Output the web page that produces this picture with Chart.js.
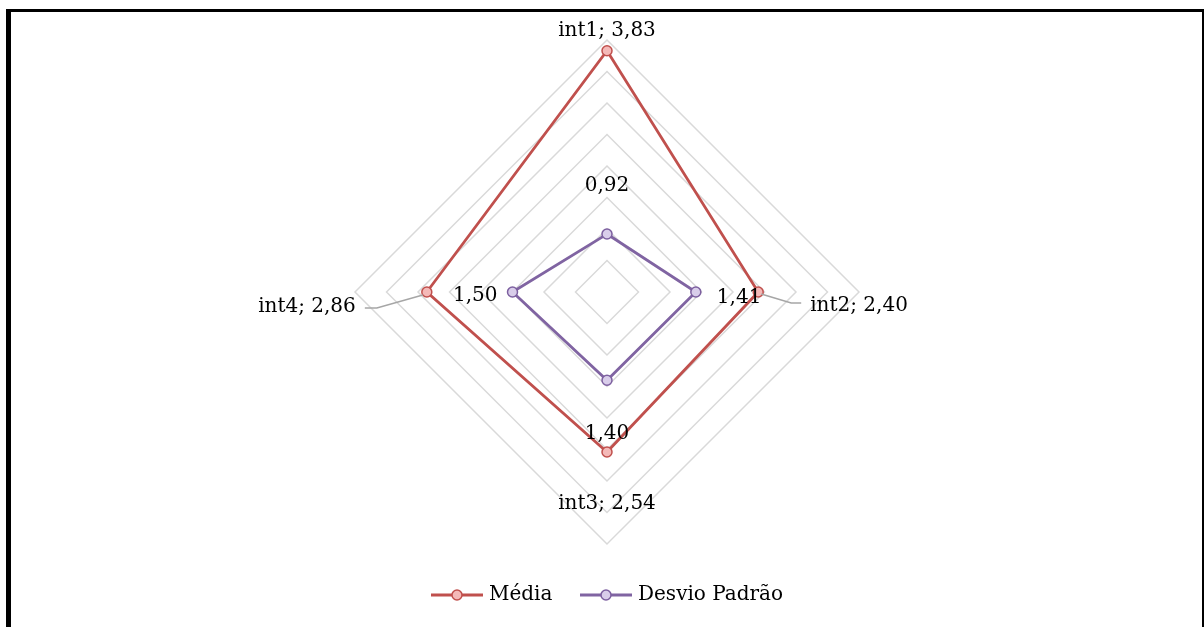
<!DOCTYPE html>
<html>
<head>
<meta charset="utf-8">
<script src="https://cdn.jsdelivr.net/npm/chart.js@4"></script>
<style>
    html, body { margin: 0; padding: 0; background: #fff; overflow: hidden; }
    #frame {
        position: absolute; left: 6px; top: 9px;
        width: 1191px; height: 700px;
        border-left: 5px solid #000; border-top: 3px solid #000; border-right: 5px solid #000;
    }
    #chart { position: absolute; left: 0; top: 0; }
</style>
</head>
<body>
<div id="frame"></div>
<canvas id="chart" width="1204" height="627"></canvas>
<script>
const categories = ['int1', 'int2', 'int3', 'int4'];
const mediaValues = [3.83, 2.40, 2.54, 2.86];
const desvioValues = [0.92, 1.41, 1.40, 1.50];
const seriesNames = ['Média', 'Desvio Padrão'];
const scaleMax = 4;
const scaleStep = 0.5;

const FONT = '20px "DejaVu Serif"';

function fmt(v) {
    return v.toFixed(2).replace('.', ',');
}

// where each value label sits relative to its point
const labelOffsets = [
    [
        { dx: 0, dy: -20, align: 'center', withName: true },
        { dx: 52, dy: 14, align: 'left', withName: true, leader: [[3, 2], [33, 11], [43, 11]] },
        { dx: 0, dy: 52, align: 'center', withName: true },
        { dx: -71, dy: 15, align: 'right', withName: true, leader: [[-4, 3], [-50, 16], [-62, 16]] }
    ],
    [
        { dx: 0, dy: -48, align: 'center' },
        { dx: 21, dy: 6, align: 'left' },
        { dx: 0, dy: 54, align: 'center' },
        { dx: -15, dy: 4, align: 'right' }
    ]
];

const valueLabels = {
    id: 'valueLabels',
    afterDatasetsDraw(chart) {
        const ctx = chart.ctx;
        ctx.save();
        chart.data.datasets.forEach((ds, di) => {
            const meta = chart.getDatasetMeta(di);
            meta.data.forEach((pt, i) => {
                const o = labelOffsets[di][i];
                if (o.leader) {
                    ctx.strokeStyle = '#a6a6a6';
                    ctx.lineWidth = 1.5;
                    ctx.beginPath();
                    o.leader.forEach(([lx, ly], k) => {
                        if (k === 0) ctx.moveTo(pt.x + lx, pt.y + ly);
                        else ctx.lineTo(pt.x + lx, pt.y + ly);
                    });
                    ctx.stroke();
                }
                const txt = o.withName ? `${chart.data.labels[i]}; ${fmt(ds.data[i])}` : fmt(ds.data[i]);
                ctx.font = FONT;
                ctx.fillStyle = '#000';
                ctx.textAlign = o.align;
                ctx.textBaseline = 'middle';
                ctx.fillText(txt, pt.x + o.dx, pt.y + o.dy);
            });
        });
        ctx.restore();
    }
};

// legend: short line with the marker in the middle, then the name
const lineLegend = {
    id: 'lineLegend',
    afterDraw(chart) {
        const ctx = chart.ctx;
        const y = 595;
        const starts = [431, 580];
        ctx.save();
        chart.data.datasets.forEach((ds, di) => {
            const x = starts[di];
            ctx.strokeStyle = ds.borderColor;
            ctx.lineWidth = ds.borderWidth;
            ctx.beginPath();
            ctx.moveTo(x, y);
            ctx.lineTo(x + 52, y);
            ctx.stroke();
            ctx.beginPath();
            ctx.arc(x + 26, y, ds.pointRadius, 0, Math.PI * 2);
            ctx.fillStyle = ds.pointBackgroundColor;
            ctx.fill();
            ctx.lineWidth = ds.pointBorderWidth;
            ctx.strokeStyle = ds.pointBorderColor;
            ctx.stroke();
            ctx.font = FONT;
            ctx.fillStyle = '#000';
            ctx.textAlign = 'left';
            ctx.textBaseline = 'middle';
            ctx.fillText(ds.label, x + 58, y);
        });
        ctx.restore();
    }
};

new Chart(document.getElementById('chart'), {
    type: 'radar',
    data: {
        labels: categories,
        datasets: [
            {
                label: seriesNames[0],
                data: mediaValues,
                borderColor: '#c0504d',
                borderWidth: 2.8,
                pointRadius: 5,
                pointBorderWidth: 1.5,
                pointBackgroundColor: '#f4b9b8',
                pointBorderColor: '#c0504d',
                fill: false
            },
            {
                label: seriesNames[1],
                data: desvioValues,
                borderColor: '#8064a2',
                borderWidth: 2.8,
                pointRadius: 5,
                pointBorderWidth: 1.5,
                pointBackgroundColor: '#d9cdea',
                pointBorderColor: '#7d60a0',
                fill: false
            }
        ]
    },
    options: {
        responsive: false,
        animation: false,
        devicePixelRatio: 1,
        layout: { padding: { top: 40, bottom: 83, left: 300, right: 290 } },
        plugins: {
            legend: { display: false },
            tooltip: { enabled: false }
        },
        scales: {
            r: {
                min: 0,
                max: scaleMax,
                ticks: { display: false, stepSize: scaleStep },
                grid: { color: '#d9d9d9', lineWidth: 1.5 },
                angleLines: { display: false },
                pointLabels: { display: false }
            }
        }
    },
    plugins: [valueLabels, lineLegend]
});
</script>
</body>
</html>
